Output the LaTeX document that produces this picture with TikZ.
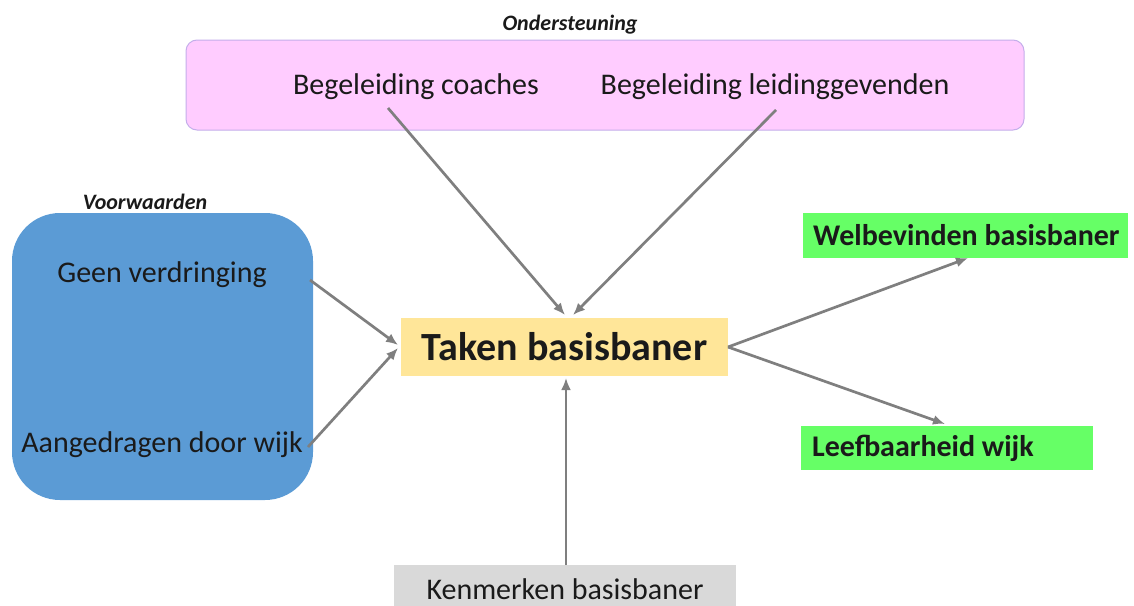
\documentclass[tikz,border=0pt]{standalone}
\usepackage{fontspec}
\setmainfont{Carlito}
\usetikzlibrary{arrows.meta,calc}
\definecolor{pinkfill}{HTML}{FFCCFF}
\definecolor{pinkline}{HTML}{C4AEEA}
\definecolor{bluefill}{HTML}{5B9BD5}
\definecolor{yellowfill}{HTML}{FFE699}
\definecolor{greenfill}{HTML}{66FF66}
\definecolor{grayfill}{HTML}{D9D9D9}
\definecolor{arrowgray}{HTML}{7F7F7F}
\definecolor{txt}{HTML}{1A1A1A}
\begin{document}
\begin{tikzpicture}[x=1pt,y=-1pt,
  box/.style={inner sep=0pt, outer sep=0pt},
  lbl/.style={inner sep=0pt, text=txt, font=\fontsize{30}{36}\selectfont},
  title/.style={inner sep=0pt, text=txt, font=\fontsize{22}{26}\selectfont\bfseries\itshape},
  conn/.style={draw=arrowgray, line width=2.7pt, -{Latex[length=12pt,width=10pt]}},
  greenbox/.style={box, fill=greenfill},
  greentext/.style={inner sep=0pt, anchor=west, text=txt, font=\fontsize{30}{36}\selectfont\bfseries}
]
\useasboundingbox (0,0) rectangle (1134,605);
% boxes
\node[box, fill=pinkfill, draw=pinkline, line width=1pt, rounded corners=11pt,
      minimum width=838pt, minimum height=90pt] (sup) at (605,85) {};
\node[box, fill=bluefill, rounded corners=48pt,
      minimum width=301pt, minimum height=287pt] (cond) at (162.5,356.5) {};
\node[box, fill=yellowfill, minimum width=327pt, minimum height=58pt,
      text=txt, font=\fontsize{40}{48}\selectfont\bfseries] (task) at (564.5,347) {Taken basisbaner};
\node[greenbox, minimum width=325pt, minimum height=45pt] (wel) at (965.5,235.5) {};
\node[greentext] (welt) at ($(wel.west)+(10,0)$) {Welbevinden basisbaner};
\node[greenbox, minimum width=292pt, minimum height=44pt] (leef) at (947,448) {};
\node[greentext] (leeft) at ($(leef.west)+(11,0)$) {Leefbaarheid wijk};
\node[box, fill=grayfill, minimum width=342pt, minimum height=48pt,
      text=txt, font=\fontsize{30}{36}\selectfont] (kenm) at (565,589) {Kenmerken basisbaner};
% titles
\node[title] (tsup) at (570,25) {Ondersteuning};
\node[title] (tcond) at (145,202) {Voorwaarden};
% labels
\node[lbl] (bc) at (416,87) {Begeleiding coaches};
\node[lbl] (bl) at (775,87) {Begeleiding leidinggevenden};
\node[lbl] (gv) at (162,275) {Geen verdringing};
\node[lbl] (ad) at (162,445) {Aangedragen door wijk};
% connectors
\draw[conn] ($(bc.center)+(-28,21)$) -- ($(task.north)+(0.5,-3)$);
\draw[conn] ($(bl.center)+(1,23)$) -- ($(task.north)+(8.5,-3)$);
\draw[conn] ($(gv.center)+(148,5)$) -- ($(task.west)+(-3,-2)$);
\draw[conn] ($(ad.center)+(146,2)$) -- ($(task.west)+(-3,1)$);
\draw[conn] ($(kenm.north)+(1,0)$) -- ($(task.south)+(1.5,2)$);
\draw[conn] (task.east) -- ($(wel.south)+(2.5,0)$);
\draw[conn] (task.east) -- ($(leef.north)+(-2,-2)$);
\end{tikzpicture}
\end{document}
